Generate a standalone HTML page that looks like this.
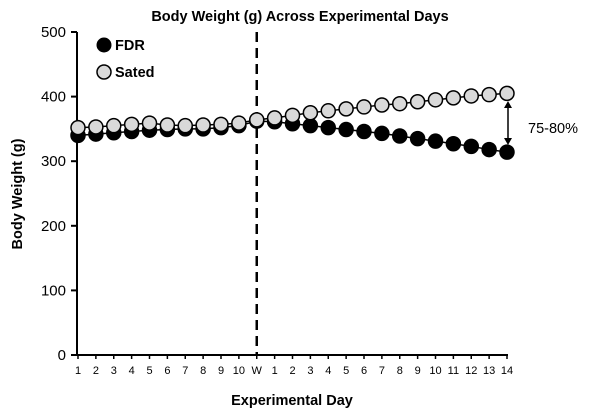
<!DOCTYPE html>
<html><head><meta charset="utf-8"><style>
body{margin:0;background:#fff;font-family:"Liberation Sans",Arial,sans-serif}
</style></head><body>
<svg id="c" width="600" height="415" xmlns="http://www.w3.org/2000/svg" font-family="Liberation Sans, Arial, sans-serif">
<text x="300" y="21" text-anchor="middle" font-size="14.5" font-weight="bold">Body Weight (g) Across Experimental Days</text>
<text transform="translate(22,194) rotate(-90)" text-anchor="middle" font-size="14.5" font-weight="bold">Body Weight (g)</text>
<text x="292" y="405" text-anchor="middle" font-size="14.5" font-weight="bold">Experimental Day</text>
<g id="axes"></g>
<g id="series"></g>
<g>
<circle cx="104" cy="45" r="7" fill="#000" stroke="#000"/>
<text x="115" y="50" font-size="14.5" font-weight="bold">FDR</text>
<circle cx="104" cy="72" r="7" fill="#d9d9d9" stroke="#000" stroke-width="1.5"/>
<text x="115" y="77" font-size="14.5" font-weight="bold">Sated</text>
</g>
<g>
<line x1="508" y1="104" x2="508" y2="142" stroke="#000" stroke-width="1.5"/>
<path d="M504,108 L508,101 L512,108 Z M504,138 L508,145 L512,138 Z" fill="#000"/>
<text x="528" y="133" font-size="14.5">75-80%</text>
</g>
</svg>
<script>
const categories=["1","2","3","4","5","6","7","8","9","10","W","1","2","3","4","5","6","7","8","9","10","11","12","13","14"];
const fdrValues=[340,342,344,346,348,349,350,350,352,355,362,361,358,355,352,349,346,343,339,335,331,327,323,318,314];
const satedValues=[352,353,355,357,359,356,355,356,357,359,364,367,371,375,378,381,384,387,389,392,395,398,401,403,405];
const yTicks=[0,100,200,300,400,500];
const NS="http://www.w3.org/2000/svg";
const x0=78,dx=17.875,yb=355,yt=32;
const xs=i=>x0+i*dx;
const ys=v=>yb-(v/500)*(yb-yt);
function mk(t,a,p){const e=document.createElementNS(NS,t);for(const k in a)e.setAttribute(k,a[k]);p.appendChild(e);return e;}
const ax=document.getElementById('axes'),se=document.getElementById('series');
let l=mk('line',{x1:77,y1:yt,x2:77,y2:yb+1,stroke:'#000','stroke-width':2},ax);


l=mk('line',{x1:76,y1:yb,x2:xs(24)+1,y2:yb,stroke:'#000','stroke-width':2},ax);


yTicks.forEach(v=>{
 mk('line',{x1:71,y1:ys(v),x2:77,y2:ys(v),stroke:'#000','stroke-width':2},ax);
 const t=mk('text',{x:66,y:ys(v)+5,'text-anchor':'end','font-size':15},ax);t.textContent=v;
 
 
});
categories.forEach((c,i)=>{
 mk('line',{x1:xs(i),y1:yb,x2:xs(i),y2:yb+4,stroke:'#000','stroke-width':1.5},ax);
 const t=mk('text',{x:xs(i),y:yb+19,'text-anchor':'middle','font-size':11},ax);t.textContent=c;
 
 
});
const wi=categories.indexOf('W');
l=mk('line',{x1:xs(wi),y1:yt,x2:xs(wi),y2:yb,stroke:'#000','stroke-width':2.5,'stroke-dasharray':'10,6'},ax);


function series(vals,fill,name){
 const p=mk('polyline',{points:vals.map((v,i)=>xs(i)+','+ys(v)).join(' '),fill:'none',stroke:'#000','stroke-width':1.5},se);
 
 
 vals.forEach((v,i)=>{
  const c=mk('circle',{cx:xs(i),cy:ys(v),r:7,fill:fill,stroke:'#000','stroke-width':1.5},se);
  
  
 });
}
series(fdrValues,'#000','fdr');
series(satedValues,'#d9d9d9','sated');
</script>
</body></html>
